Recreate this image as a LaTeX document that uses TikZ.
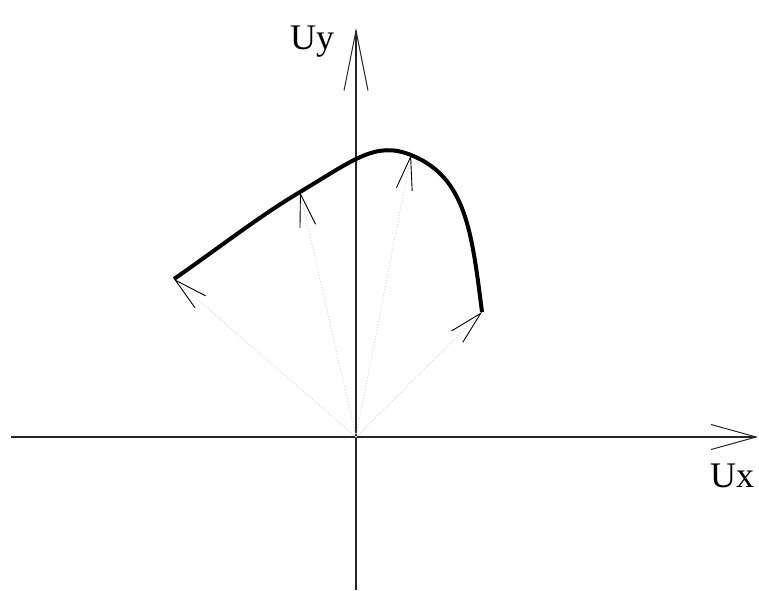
\documentclass[tikz,border=0pt]{standalone}
\usepackage{fontspec}
\setmainfont{Liberation Serif}
\usetikzlibrary{arrows.meta}

\begin{document}
\begin{tikzpicture}[
 x=1pt,y=1pt,
 axis/.style={line width=1.1pt,draw=black!85},
 ray/.style={draw=black!15,dotted,line width=1pt,-{Straight Barb[length=33pt,width=16pt,line width=0.9pt,black]}},
 curve/.style={line width=4pt,line join=round},
 lbl/.style={anchor=base west,inner sep=0pt,font=\fontsize{36}{40}\selectfont}
]
\useasboundingbox (-356,-153) rectangle (403,437);
\coordinate (O) at (0,0);
\coordinate (xl) at (-345,0); \coordinate (xr) at (402,0);
\coordinate (yb) at (0,-153); \coordinate (yt) at (0,409);
\coordinate (A) at (-182,158);
\coordinate (B) at (-56,245);
\coordinate (C) at (55,282);
\coordinate (D) at (126,125);
\draw[axis,-{Straight Barb[length=45pt,width=25pt,line width=1pt]}] (xl)--(xr);
\draw[axis,-{Straight Barb[length=60pt,width=24pt,line width=1pt]}] (yb)--(yt);
\node[lbl] (uy) at (-66,387) {Uy};
\node[lbl] (ux) at (354,-50) {Ux};
\foreach \p in {A,B,C,D}{\draw[ray] (O)--(\p);}
% the curve through the four tips
\draw[curve] (A) .. controls (-140,187) and (-98,220) .. (B)
 .. controls (-1,278) and (20,296) .. (C)
 .. controls (110,260) and (115.8,205) .. (D);
\end{tikzpicture}
\end{document}
